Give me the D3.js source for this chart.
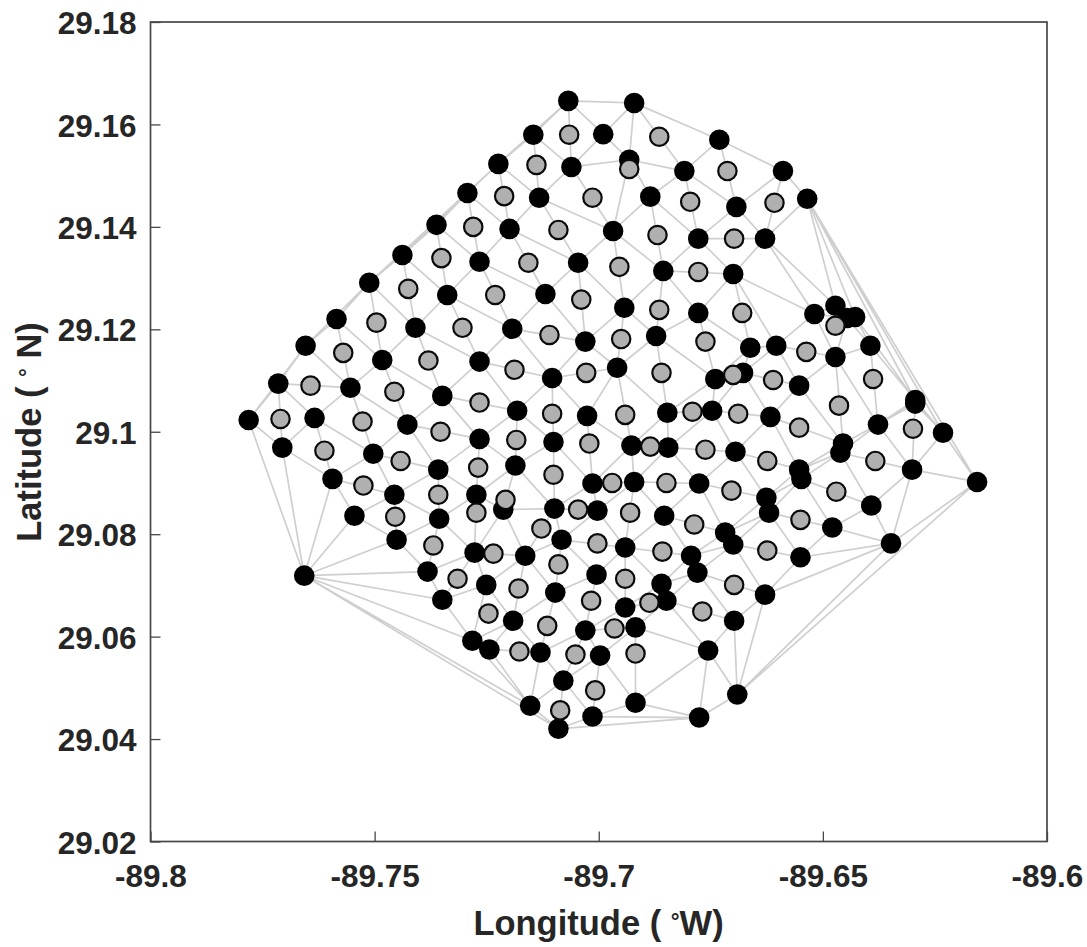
<!DOCTYPE html>
<html><head><meta charset="utf-8">
<script src="https://cdnjs.cloudflare.com/ajax/libs/d3/7.8.5/d3.min.js"></script>
<style>html,body{margin:0;padding:0;background:#fff}svg{display:block}text{font-family:"Liberation Sans",Arial,sans-serif;font-weight:700;fill:#262626}</style>
</head><body><svg id="c" width="1087" height="947"></svg>
<script>
const xTicks=[-89.8,-89.75,-89.7,-89.65,-89.6];
const xTickLabels=["-89.8","-89.75","-89.7","-89.65","-89.6"];
const yTicks=[29.02,29.04,29.06,29.08,29.1,29.12,29.14,29.16,29.18];
const yTickLabels=["29.02","29.04","29.06","29.08","29.1","29.12","29.14","29.16","29.18"];
// [longitude, latitude]
const meshNodes=[[-89.7068,29.1646],[-89.6921,29.1642],[-89.7146,29.158],[-89.699,29.1581],[-89.7061,29.1517],[-89.6932,29.1531],[-89.7224,29.1523],[-89.6809,29.1509],[-89.6731,29.157],[-89.6589,29.1509],[-89.7293,29.1466],[-89.7133,29.1457],[-89.6885,29.1459],[-89.6693,29.1439],[-89.6535,29.1455],[-89.7362,29.1404],[-89.7199,29.1396],[-89.6968,29.1392],[-89.6778,29.1377],[-89.6629,29.1377],[-89.7438,29.1345],[-89.7266,29.1332],[-89.7046,29.133],[-89.6856,29.1314],[-89.67,29.1308],[-89.7512,29.1291],[-89.7338,29.1267],[-89.7119,29.1269],[-89.6943,29.1242],[-89.6778,29.1232],[-89.6472,29.1246],[-89.6519,29.123],[-89.6446,29.1222],[-89.6428,29.1224],[-89.7585,29.122],[-89.7409,29.1203],[-89.7193,29.1201],[-89.703,29.1176],[-89.6872,29.1187],[-89.7654,29.1168],[-89.7483,29.114],[-89.7266,29.1137],[-89.6662,29.1164],[-89.6604,29.1168],[-89.6394,29.1168],[-89.6472,29.1146],[-89.6959,29.1125],[-89.7104,29.1105],[-89.674,29.1103],[-89.6678,29.1115],[-89.7715,29.1094],[-89.7554,29.1086],[-89.6553,29.109],[-89.7349,29.107],[-89.6294,29.1062],[-89.6294,29.1055],[-89.7182,29.1041],[-89.6847,29.1037],[-89.6747,29.1041],[-89.6617,29.1029],[-89.7026,29.1031],[-89.7781,29.1023],[-89.7634,29.1027],[-89.7427,29.1014],[-89.6377,29.1014],[-89.7266,29.0986],[-89.7101,29.098],[-89.6927,29.0973],[-89.6845,29.0969],[-89.6695,29.0961],[-89.6455,29.0977],[-89.6461,29.0959],[-89.6232,29.0998],[-89.7706,29.0969],[-89.7503,29.0957],[-89.7358,29.0926],[-89.7186,29.0934],[-89.6553,29.0926],[-89.6548,29.0908],[-89.6301,29.0926],[-89.7594,29.0908],[-89.6921,29.0902],[-89.7014,29.0899],[-89.6776,29.0899],[-89.6156,29.0902],[-89.7456,29.0877],[-89.7273,29.0877],[-89.6626,29.0871],[-89.662,29.0842],[-89.6392,29.0856],[-89.7213,29.0848],[-89.7099,29.085],[-89.7003,29.0846],[-89.6854,29.0836],[-89.7545,29.0836],[-89.7356,29.083],[-89.6479,29.0813],[-89.7451,29.0789],[-89.7083,29.0789],[-89.6718,29.0803],[-89.67,29.078],[-89.6941,29.0774],[-89.7277,29.0764],[-89.7164,29.0758],[-89.6794,29.0758],[-89.655,29.0755],[-89.6348,29.0782],[-89.7382,29.0727],[-89.7657,29.0719],[-89.7005,29.0721],[-89.678,29.0725],[-89.7251,29.0701],[-89.686,29.0703],[-89.7097,29.0686],[-89.6629,29.0682],[-89.7349,29.0672],[-89.6849,29.067],[-89.6941,29.0657],[-89.7191,29.0631],[-89.6698,29.0631],[-89.703,29.0612],[-89.6918,29.0618],[-89.7282,29.0592],[-89.7244,29.0575],[-89.713,29.0569],[-89.6997,29.0563],[-89.6756,29.0573],[-89.7079,29.0514],[-89.6691,29.0487],[-89.7153,29.0465],[-89.6918,29.0471],[-89.7014,29.0444],[-89.6776,29.0442],[-89.709,29.042]];
const midNodesUnder=[[-89.6791,29.1039],[-89.697,29.09]];
const midNodes=[[-89.7066,29.158],[-89.7139,29.1521],[-89.7014,29.1457],[-89.7211,29.146],[-89.728,29.14],[-89.709,29.1394],[-89.7351,29.1339],[-89.7157,29.133],[-89.7425,29.1279],[-89.7231,29.1267],[-89.7039,29.1258],[-89.7496,29.1213],[-89.7304,29.1203],[-89.711,29.1189],[-89.757,29.1154],[-89.738,29.1139],[-89.7028,29.1115],[-89.7188,29.1121],[-89.7643,29.109],[-89.7456,29.1078],[-89.7266,29.1057],[-89.7104,29.1035],[-89.771,29.1025],[-89.7527,29.102],[-89.6865,29.1576],[-89.6932,29.1513],[-89.6713,29.1509],[-89.6796,29.1449],[-89.6608,29.1447],[-89.6869,29.1384],[-89.6698,29.1377],[-89.6954,29.1322],[-89.6778,29.1312],[-89.6865,29.1238],[-89.668,29.1232],[-89.6472,29.1207],[-89.695,29.1181],[-89.6762,29.1176],[-89.6537,29.1156],[-89.686,29.1115],[-89.67,29.1111],[-89.6611,29.1101],[-89.6388,29.1103],[-89.6464,29.1051],[-89.6941,29.1033],[-89.6689,29.1035],[-89.7353,29.1],[-89.7184,29.0984],[-89.7021,29.0977],[-89.7612,29.0963],[-89.7442,29.0943],[-89.7269,29.093],[-89.7101,29.0916],[-89.7525,29.0895],[-89.7358,29.0877],[-89.7208,29.0867],[-89.7273,29.0842],[-89.7454,29.0834],[-89.7046,29.0848],[-89.7003,29.0782],[-89.7128,29.0811],[-89.7369,29.0778],[-89.7235,29.0762],[-89.709,29.0741],[-89.7315,29.0713],[-89.7179,29.0694],[-89.7017,29.067],[-89.7246,29.0645],[-89.7115,29.0621],[-89.6965,29.0616],[-89.7177,29.0571],[-89.7052,29.0565],[-89.7008,29.0495],[-89.7086,29.0456],[-89.6299,29.1006],[-89.6885,29.0971],[-89.6762,29.0965],[-89.6553,29.1008],[-89.6624,29.0943],[-89.6383,29.0943],[-89.6849,29.09],[-89.6704,29.0885],[-89.647,29.0883],[-89.693,29.0842],[-89.6787,29.0819],[-89.655,29.0828],[-89.6858,29.0766],[-89.6624,29.0768],[-89.6941,29.0713],[-89.6698,29.0701],[-89.6887,29.0666],[-89.6769,29.0649],[-89.6918,29.0567]];

const plotLeft=150.5,plotRight=1047,plotTop=22,plotBottom=841.5;
const x=d3.scaleLinear().domain([-89.8,-89.6]).range([plotLeft,plotRight]);
const y=d3.scaleLinear().domain([29.02,29.18]).range([plotBottom,plotTop]);
const svg=d3.select("#c");
const ink="#474747";

// triangulated mesh
const pts=meshNodes.map(d=>[x(d[0]),y(d[1])]);
const del=d3.Delaunay.from(pts);
svg.append("path").attr("d",del.render()).attr("fill","none").attr("stroke","#cfcfcf").attr("stroke-width",1.7);

// axes box
svg.append("rect").attr("x",plotLeft).attr("y",plotTop).attr("width",plotRight-plotLeft).attr("height",plotBottom-plotTop)
  .attr("fill","none").attr("stroke",ink).attr("stroke-width",1.7);
const xAxis=d3.axisBottom(x).tickValues(xTicks).tickFormat((d,i)=>xTickLabels[i]).tickSizeInner(-10).tickSizeOuter(0).tickPadding(23.5);
const yAxis=d3.axisLeft(y).tickValues(yTicks).tickFormat((d,i)=>yTickLabels[i]).tickSizeInner(-10).tickSizeOuter(0).tickPadding(14);
const gx=svg.append("g").attr("transform",`translate(0,${plotBottom})`).call(xAxis);
const gy=svg.append("g").attr("transform",`translate(${plotLeft},0)`).call(yAxis);
[gx,gy].forEach(g=>{g.select(".domain").remove();g.selectAll("line").attr("stroke",ink).attr("stroke-width",1.3);
  g.selectAll("text").style("font-size","31.5px").attr("fill","#262626");});
gy.selectAll("text").attr("dy","0.37em");

// nodes
const midStyle=s=>s.attr("r",9.2).attr("fill","#b0b0b0").attr("stroke","#0a0a0a").attr("stroke-width",2.2);
svg.append("g").selectAll("circle").data(midNodesUnder).join("circle")
  .attr("cx",d=>x(d[0])).attr("cy",d=>y(d[1])).call(midStyle);
svg.append("g").selectAll("circle").data(meshNodes).join("circle")
  .attr("cx",d=>x(d[0])).attr("cy",d=>y(d[1])).attr("r",10.3).attr("fill","#000");
svg.append("g").selectAll("circle").data(midNodes).join("circle")
  .attr("cx",d=>x(d[0])).attr("cy",d=>y(d[1])).call(midStyle);

// axis titles
const xt=svg.append("text").attr("x",598.5).attr("y",935).attr("text-anchor","middle").style("font-size","34.5px");
xt.append("tspan").text("Longitude ( ");
xt.append("tspan").text("°").style("font-size","22px").attr("dy",-6);
xt.append("tspan").text("W)").attr("dy",6);
const yt=svg.append("text").attr("transform","translate(41,432) rotate(-90)").attr("text-anchor","middle").style("font-size","34.5px");
yt.append("tspan").text("Latitude ( ");
yt.append("tspan").text("°").style("font-size","22px").attr("dy",-6);
yt.append("tspan").text(" N)").attr("dy",6);
</script></body></html>
